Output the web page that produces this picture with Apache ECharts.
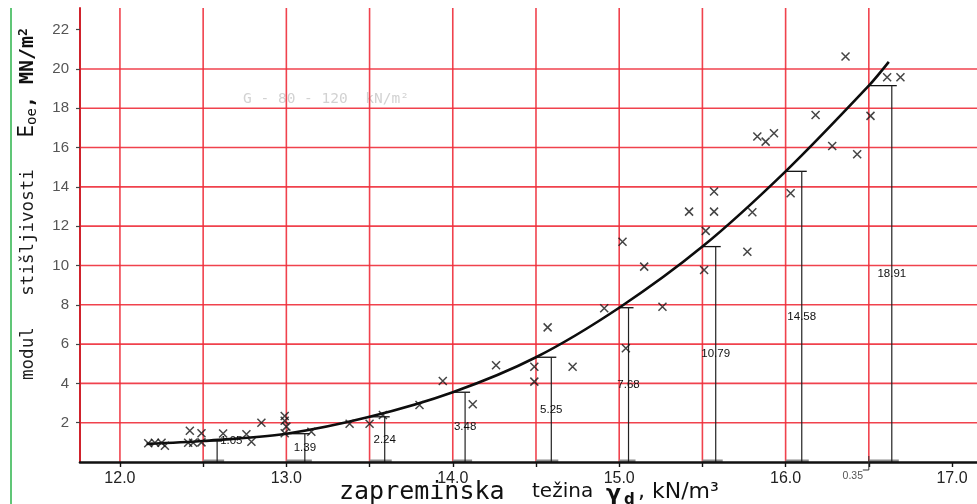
<!DOCTYPE html>
<html>
<head>
<meta charset="utf-8">
<script src="https://cdn.jsdelivr.net/npm/echarts@6/dist/echarts.min.js"></script>
<style>html,body{margin:0;padding:0;background:#fff}#c{width:977px;height:504px}</style>
</head>
<body>
<div id="c"></div>
<script>
// ---- data ----
const curveX = [12.16, 12.5, 13.0, 13.5, 14.0, 14.5, 15.0, 15.5, 16.0, 16.5, 16.62];
const curveY = [0.92, 1.07, 1.44, 2.3, 3.55, 5.33, 7.85, 10.96, 14.79, 19.15, 20.36];

const bracketGridX = [12.5, 13.0, 13.5, 14.0, 14.5, 15.0, 15.5, 16.0, 16.5];
const bracketLineX = [12.584, 13.111, 13.591, 14.074, 14.592, 15.056, 15.580, 16.097, 16.638];
const bracketLabels = ['1.05', '1.39', '2.24', '3.48', '5.25', '7.68', '10.79', '14.58', '18.91'];

const offsetX = [16.5];
const offsetLabels = ['0.35'];

const pointsX = [12.17, 12.21, 12.25, 12.27, 12.41, 12.44, 12.42, 12.49, 12.49, 12.62,
  12.76, 12.79, 12.85, 12.99, 12.99, 13.0, 12.99, 13.15, 13.38, 13.50,
  13.58, 13.80, 13.94, 14.12, 14.26, 14.49, 14.49, 14.57, 14.72, 14.91,
  15.04, 15.02, 15.15, 15.26, 15.42, 15.52, 15.51, 15.57, 15.57, 15.77,
  15.80, 16.03, 15.83, 15.88, 15.93, 16.18, 16.28, 16.36, 16.43, 16.51,
  16.61, 16.69];
const pointsY = [0.95, 0.98, 0.98, 0.83, 0.98, 0.98, 1.59, 1.46, 1.0, 1.45,
  1.41, 1.03, 2.0, 2.34, 2.1, 1.8, 1.46, 1.54, 1.95, 1.95,
  2.39, 2.9, 4.12, 2.94, 4.92, 4.85, 4.09, 6.85, 4.85, 7.82,
  5.79, 11.21, 9.94, 7.9, 12.74, 11.76, 9.77, 13.76, 12.74, 10.7,
  12.71, 13.67, 16.56, 16.3, 16.73, 17.66, 16.08, 20.63, 15.66, 17.61,
  19.58, 19.58];

const gridLinesX = [12.0, 12.5, 13.0, 13.5, 14.0, 14.5, 15.0, 15.5, 16.0, 16.5];
const gridLinesY = [2, 4, 6, 8, 10, 12, 14, 16, 18, 20];
const xTickValues = [12.0, 12.5, 13.0, 13.5, 14.0, 14.5, 15.0, 15.5, 16.0, 16.5, 17.0];
const xLabelValues = [12, 13, 14, 15, 16, 17];
const yLabelValues = [2, 4, 6, 8, 10, 12, 14, 16, 18, 20, 22];

const X_MIN = 11.76, X_MAX = 17.15, Y_MAX = 23.1;

// ---- chart ----
const RED = '#ee2d3a';
const chart = echarts.init(document.getElementById('c'));

function heightAt(x) {
  const i = curveX.indexOf(x);
  return curveY[i];
}

const option = {
  animation: false,
  backgroundColor: '#fff',
  grid: { left: 80, right: 0, top: 8, bottom: 42 },
  xAxis: {
    type: 'value', min: X_MIN, max: X_MAX, z: 5,
    axisLine: { show: true, lineStyle: { color: '#111', width: 2.6 } },
    axisTick: { show: true, customValues: xTickValues, length: 5, lineStyle: { color: '#111', width: 1.4 } },
    axisLabel: {
      customValues: xLabelValues, margin: 9,
      formatter: v => v.toFixed(1),
      fontFamily: '"Liberation Sans", Arial, sans-serif', fontSize: 16, color: '#222'
    },
    splitLine: { show: false }
  },
  yAxis: {
    type: 'value', min: 0, max: Y_MAX, z: 5,
    axisLine: { show: true, lineStyle: { color: '#d0222c', width: 2 } },
    axisTick: { show: true, customValues: yLabelValues, length: 4, lineStyle: { color: '#444', width: 1.2 } },
    axisLabel: {
      customValues: yLabelValues, margin: 11,
      fontFamily: '"Liberation Sans", Arial, sans-serif', fontSize: 15, color: '#555'
    },
    splitLine: { show: false }
  },
  graphic: [
    { type: 'line', shape: { x1: 11, y1: 8, x2: 11, y2: 504 }, style: { stroke: '#2bb34a', lineWidth: 1.5 } },
    {
      type: 'text', x: 28, y: 204, rotation: Math.PI / 2,
      style: {
        text: '{a|modul   stišljivosti   }{e|E}{s|oe}{m|, MN/m}{p|2}',
        align: 'center', verticalAlign: 'middle', fill: '#1a1a1a',
        rich: {
          a: { fontFamily: '"DejaVu Sans Mono", monospace', fontSize: 17.5, fill: '#1e1e1e', lineHeight: 22 },
          e: { fontFamily: '"DejaVu Sans Mono", monospace', fontSize: 21, fill: '#111', lineHeight: 22 },
          s: { fontFamily: '"DejaVu Sans Mono", monospace', fontSize: 14, fill: '#111', verticalAlign: 'bottom', lineHeight: 22 },
          m: { fontFamily: '"DejaVu Sans Mono", monospace', fontSize: 20, fontWeight: 'bold', fill: '#111', lineHeight: 22 },
          p: { fontFamily: '"DejaVu Sans Mono", monospace', fontSize: 13, fontWeight: 'bold', fill: '#111', verticalAlign: 'top', lineHeight: 22 }
        }
      }
    },
    { type: 'text', x: 339, y: 492, style: { text: 'zapreminska', font: '25px "DejaVu Sans Mono", monospace', fill: '#111', align: 'left', verticalAlign: 'middle' } },
    { type: 'text', x: 532, y: 492, style: { text: 'težina', font: '20px "DejaVu Sans", sans-serif', fill: '#111', align: 'left', verticalAlign: 'middle' } },
    { type: 'text', x: 606, y: 494, style: { text: 'γ', font: 'bold 22px "DejaVu Sans", sans-serif', fill: '#111', align: 'left', verticalAlign: 'middle' } },
    { type: 'text', x: 624, y: 500, style: { text: 'd', font: 'bold 15px "DejaVu Sans", sans-serif', fill: '#111', align: 'left', verticalAlign: 'middle' } },
    { type: 'text', x: 638, y: 492, style: { text: ', kN/m³', font: '22px "DejaVu Sans", sans-serif', fill: '#111', align: 'left', verticalAlign: 'middle' } },
    { type: 'text', x: 243, y: 99, style: { text: 'G - 80 - 120  kN/m²', font: '14.5px "DejaVu Sans Mono", monospace', fill: '#d2d2d2', align: 'left', verticalAlign: 'middle' } }
  ],
  series: [
    {
      type: 'custom', name: 'gridX', z: 1, silent: true,
      data: gridLinesX.map(x => [x, 0]),
      renderItem: (params, api) => {
        const x = api.value(0);
        const p1 = api.coord([x, 0]), p2 = api.coord([x, Y_MAX]);
        return { type: 'line', shape: { x1: p1[0], y1: p1[1], x2: p2[0], y2: p2[1] }, style: { stroke: RED, lineWidth: 1.6, opacity: 0.9 } };
      }
    },
    {
      type: 'custom', name: 'gridY', z: 1, silent: true,
      data: gridLinesY.map(y => [X_MIN, y]),
      renderItem: (params, api) => {
        const y = api.value(1);
        const p1 = api.coord([X_MIN, y]), p2 = api.coord([X_MAX, y]);
        return { type: 'line', shape: { x1: p1[0], y1: p1[1], x2: p2[0], y2: p2[1] }, style: { stroke: RED, lineWidth: 1.6, opacity: 0.9 } };
      }
    },
    {
      type: 'custom', name: 'brackets', z: 3, silent: true,
      data: bracketGridX.map((g, i) => [g, heightAt(g), bracketLineX[i], i]),
      renderItem: (params, api) => {
        const g = api.value(0), h = api.value(1), bx = api.value(2), i = api.value(3);
        const top = api.coord([g, h]);
        const base = api.coord([bx, 0]);
        const gBase = api.coord([g, 0]);
        const children = [
          { type: 'line', shape: { x1: gBase[0], y1: gBase[1] - 1, x2: base[0] + 7, y2: base[1] - 1 }, style: { stroke: '#8c8c8c', lineWidth: 3 } },
          { type: 'line', shape: { x1: top[0], y1: top[1], x2: base[0] + 5, y2: top[1] }, style: { stroke: '#111', lineWidth: 1.3 } },
          { type: 'line', shape: { x1: base[0], y1: top[1], x2: base[0], y2: base[1] }, style: { stroke: '#222', lineWidth: 1.2 } }
        ];
        if (i === 0) {
          children.push({ type: 'text', x: base[0] + 3, y: top[1], style: { text: bracketLabels[i], font: '11.5px "Liberation Sans", Arial, sans-serif', fill: '#111', align: 'left', verticalAlign: 'middle' } });
        } else {
          children.push({ type: 'text', x: base[0], y: (top[1] + base[1]) / 2, style: { text: bracketLabels[i], font: '11.5px "Liberation Sans", Arial, sans-serif', fill: '#111', align: 'center', verticalAlign: 'middle' } });
        }
        return { type: 'group', children };
      }
    },
    {
      type: 'custom', name: 'offset', z: 6, silent: true,
      data: offsetX.map((x, i) => [x, 0, i]),
      renderItem: (params, api) => {
        const p = api.coord([api.value(0), 0]);
        const i = api.value(2);
        return {
          type: 'group', children: [
            { type: 'line', shape: { x1: p[0] - 6, y1: p[1] + 8, x2: p[0], y2: p[1] + 8 }, style: { stroke: '#333', lineWidth: 1 } },
            { type: 'line', shape: { x1: p[0], y1: p[1] + 8, x2: p[0], y2: p[1] - 6 }, style: { stroke: '#333', lineWidth: 1 } },
            { type: 'text', x: p[0] - 16, y: p[1] + 14, style: { text: offsetLabels[i], font: '10.5px "Liberation Sans", Arial, sans-serif', fill: '#555', align: 'center', verticalAlign: 'middle' } }
          ]
        };
      }
    },
    {
      type: 'line', name: 'curve', z: 4, silent: true,
      data: curveX.map((x, i) => [x, curveY[i]]),
      smooth: 0.3, showSymbol: false, symbol: 'none',
      lineStyle: { color: '#0d0d0d', width: 2.6 }
    },
    {
      type: 'scatter', name: 'points', z: 5, silent: true,
      data: pointsX.map((x, i) => [x, pointsY[i]]),
      symbol: 'path://M0 0L10 10M10 0L0 10', symbolSize: 8,
      itemStyle: { color: 'rgba(0,0,0,0)', borderColor: '#151515', borderWidth: 1.5 }
    }
  ]
};
chart.setOption(option);
</script>
</body>
</html>
